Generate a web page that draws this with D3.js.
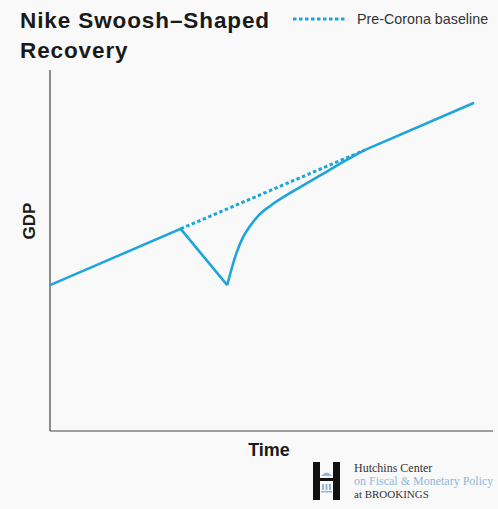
<!DOCTYPE html>
<html>
<head>
<meta charset="utf-8">
<script src="https://cdn.jsdelivr.net/npm/d3@7"></script>
<style>
  body { margin: 0; background: #f9f9f9; }
  svg { display: block; }
</style>
</head>
<body>
<svg id="chart" width="498" height="509"></svg>
<script>
// schematic: time and GDP are in arbitrary units
var dropPath = [[0, 40.4], [29.5, 56], [40, 40.4]];
var recoveryPath = [[40, 40.4], [42, 49], [43.5, 53.5], [45, 56.5], [47, 59.6], [50, 62.6], [55, 66.5], [61, 70.8], [66, 74.4], [71, 77.8]];
var tailPath = [[71, 77.8], [95.5, 90.8]];
var baselinePath = [[29.5, 56], [71, 77.8]];
var legendLabel = 'Pre-Corona baseline';
var titleLines = ['Nike Swoosh\u2013Shaped', 'Recovery'];
var logoLines = ['Hutchins Center', 'on Fiscal & Monetary Policy', 'at BROOKINGS'];

var blue = '#1ea5db';
var svg = d3.select('#chart');

var x = d3.scaleLinear().domain([0, 100]).range([50, 493]);
var y = d3.scaleLinear().domain([0, 100]).range([431, 70]);

// axes: just the two lines, no ticks
svg.append('line').attr('x1', x(0)).attr('x2', x(0)).attr('y1', y(100)).attr('y2', y(0))
  .attr('stroke', '#444').attr('stroke-width', 1.2);
svg.append('line').attr('x1', x(0)).attr('x2', x(100)).attr('y1', y(0)).attr('y2', y(0))
  .attr('stroke', '#444').attr('stroke-width', 1.2);

var straight = d3.line().x(function(d) { return x(d[0]); }).y(function(d) { return y(d[1]); });
var smooth = d3.line().curve(d3.curveMonotoneX).x(function(d) { return x(d[0]); }).y(function(d) { return y(d[1]); });

svg.append('path').attr('d', straight(baselinePath))
  .attr('fill', 'none').attr('stroke', blue).attr('stroke-width', 3).attr('stroke-dasharray', '3.5,2.5');
svg.append('path').attr('d', straight(dropPath))
  .attr('fill', 'none').attr('stroke', blue).attr('stroke-width', 2.6).attr('stroke-linejoin', 'miter');
svg.append('path').attr('d', smooth(recoveryPath))
  .attr('fill', 'none').attr('stroke', blue).attr('stroke-width', 2.6);
svg.append('path').attr('d', straight(tailPath))
  .attr('fill', 'none').attr('stroke', blue).attr('stroke-width', 2.6).attr('stroke-linecap', 'round');

// title
svg.selectAll('.title').data(titleLines).enter().append('text')
  .attr('class', 'title')
  .attr('x', 20).attr('y', function(d, i) { return 28 + i * 30; })
  .attr('font-family', '"Liberation Sans", Arial, sans-serif')
  .attr('font-weight', 'bold').attr('font-size', 22.5).attr('letter-spacing', 0.9)
  .attr('fill', '#1a1a1a')
  .text(function(d) { return d; });

// legend
svg.append('line').attr('x1', 293).attr('x2', 347).attr('y1', 19).attr('y2', 19)
  .attr('stroke', blue).attr('stroke-width', 3).attr('stroke-dasharray', '3.5,2.5');
svg.append('text').attr('x', 357).attr('y', 24)
  .attr('font-family', '"Liberation Sans", Arial, sans-serif')
  .attr('font-size', 14.3).attr('fill', '#333')
  .text(legendLabel);

// axis titles
svg.append('text').attr('transform', 'translate(35,221) rotate(-90)')
  .attr('text-anchor', 'middle')
  .attr('font-family', '"Liberation Sans", Arial, sans-serif')
  .attr('font-weight', 'bold').attr('font-size', 17).attr('fill', '#1a1a1a')
  .text('GDP');
svg.append('text').attr('x', 269).attr('y', 456).attr('text-anchor', 'middle')
  .attr('font-family', '"Liberation Sans", Arial, sans-serif')
  .attr('font-weight', 'bold').attr('font-size', 18).attr('fill', '#1a1a1a')
  .text('Time');

// Hutchins logo
var logo = svg.append('g');
logo.append('rect').attr('x', 313).attr('y', 462).attr('width', 7).attr('height', 38).attr('fill', '#111');
logo.append('rect').attr('x', 333).attr('y', 462).attr('width', 7).attr('height', 38).attr('fill', '#111');
logo.append('rect').attr('x', 320).attr('y', 478).attr('width', 13).attr('height', 3).attr('fill', '#111');
logo.append('path').attr('d', 'M321,476 Q326.5,469 332,476 Z').attr('fill', '#8fb8d8');
[322, 325.5, 329].forEach(function(cx) {
  logo.append('rect').attr('x', cx).attr('y', 484).attr('width', 2).attr('height', 6).attr('fill', '#8fb8d8');
});
logo.append('rect').attr('x', 321).attr('y', 491).attr('width', 11).attr('height', 1.5).attr('fill', '#8fb8d8');

var logoColors = ['#333', '#8fb8d8', '#333'];
logo.selectAll('.logotext').data(logoLines).enter().append('text')
  .attr('class', 'logotext')
  .attr('x', 354).attr('y', function(d, i) { return 472 + i * 13; })
  .attr('font-family', '"Liberation Serif", "DejaVu Serif", serif')
  .attr('font-size', function(d, i) { return i === 2 ? 11 : 12; })
  .attr('fill', function(d, i) { return logoColors[i]; })
  .text(function(d) { return d; });
</script>
</body>
</html>
